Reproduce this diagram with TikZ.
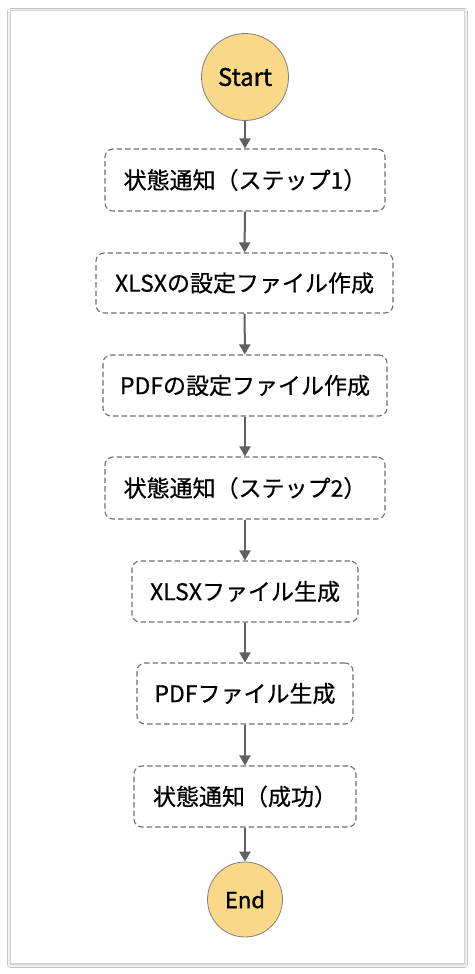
\documentclass[tikz,border=0pt]{standalone}
\usepackage{fontspec}
\setmainfont{Noto Sans CJK JP}
\newfontfamily\semib{Noto Sans CJK JP}[FakeBold=1.5]
\newfontfamily\boxfont{Noto Sans CJK JP}[FakeBold=0.6]
\usetikzlibrary{arrows.meta,shadows.blur}
\definecolor{framegray}{HTML}{D4D4D4}
\definecolor{boxgray}{HTML}{707070}
\definecolor{arrowgray}{HTML}{606060}
\definecolor{termfill}{HTML}{F9D987}
\definecolor{termline}{HTML}{808080}
\begin{document}
\begin{tikzpicture}[x=1pt,y=-1pt,
  stepbox/.style={draw=boxgray, line width=1.1pt, dash pattern=on 5.5pt off 3pt,
    rounded corners=8pt, fill=white, inner sep=0pt, font=\boxfont\fontsize{23}{26}\selectfont,
    text=black},
  term/.style={circle, draw=termline, line width=0.8pt, fill=termfill, inner sep=0pt,
    text=black},
  flow/.style={draw=arrowgray, line width=2pt, -{Triangle[width=11pt,length=10pt]}}]
\useasboundingbox (0,0) rectangle (474,974);
\fill[white] (0,0) rectangle (474,974);
\path[fill=white, draw=framegray, line width=0.8pt,
  blur shadow={shadow xshift=0.5pt, shadow yshift=-1.5pt, shadow blur steps=6, shadow blur radius=3pt, shadow opacity=30}]
  (10,10) rectangle (464,963);
\node[term, minimum size=87pt, font=\semib\fontsize{24}{28}\selectfont] (start) at (245,77) {Start};
\node[stepbox, minimum width=280pt, minimum height=62pt] (s1) at (245,180) {状態通知（ステップ1）};
\node[stepbox, minimum width=297pt, minimum height=60pt] (s2) at (244.5,283) {XLSXの設定ファイル作成};
\node[stepbox, minimum width=284pt, minimum height=61pt] (s3) at (245,385.5) {PDFの設定ファイル作成};
\node[stepbox, minimum width=280pt, minimum height=62pt] (s4) at (245,488) {状態通知（ステップ2）};
\node[stepbox, minimum width=226pt, minimum height=61pt] (s5) at (245,591.5) {XLSXファイル生成};
\node[stepbox, minimum width=216pt, minimum height=61pt] (s6) at (245,693.5) {PDFファイル生成};
\node[stepbox, minimum width=222pt, minimum height=61pt] (s7) at (245,796.5) {状態通知（成功）};
\node[term, minimum size=75pt, font=\semib\fontsize{22}{26}\selectfont] (end) at (245,899.5) {End};
\draw[flow] (start) -- (s1);
\draw[flow] (s1) -- (s2);
\draw[flow] (s2) -- (s3);
\draw[flow] (s3) -- (s4);
\draw[flow] (s4) -- (s5);
\draw[flow] (s5) -- (s6);
\draw[flow] (s6) -- (s7);
\draw[flow] (s7) -- (end);
\end{tikzpicture}
\end{document}
